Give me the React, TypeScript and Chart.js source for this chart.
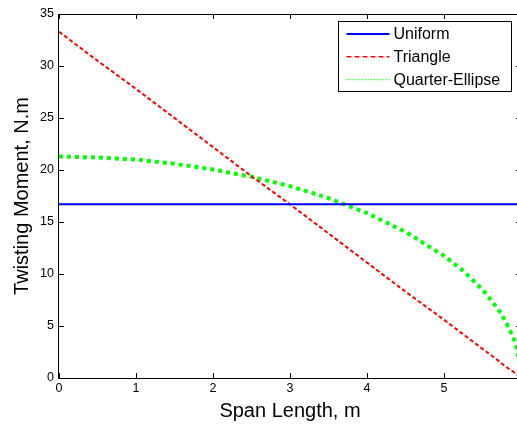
import React, { useEffect, useRef } from "react";
import { Chart, registerables } from "chart.js";

Chart.register(...registerables);

const spanX = [0, 0.5, 1, 1.5, 2, 2.5, 3, 3.5, 4, 4.5, 5, 5.25, 5.5, 5.7, 5.8, 5.9, 5.95, 6];
const uniformValues = [16.7, 16.7, 16.7, 16.7, 16.7, 16.7, 16.7, 16.7, 16.7, 16.7, 16.7, 16.7, 16.7, 16.7, 16.7, 16.7, 16.7, 16.7];
const triangleValues = [33.3, 30.5, 27.8, 25.0, 22.2, 19.4, 16.7, 13.9, 11.1, 8.3, 5.6, 4.2, 2.8, 1.7, 1.1, 0.6, 0.3, 0];
const ellipseValues = [21.3, 21.2, 21.0, 20.6, 20.05, 19.35, 18.45, 17.3, 15.85, 14.05, 11.75, 10.3, 8.5, 6.65, 5.45, 3.9, 2.75, 0];
const seriesNames = ["Uniform", "Triangle", "Quarter-Ellipse"];
const xTitle = "Span Length, m";
const yTitle = "Twisting Moment, N.m";

const FONT = "'Liberation Sans', Arial, sans-serif";

const boxPlugin = {
  id: "matlabBox",
  afterDraw(chart: any) {
    const { ctx, chartArea, scales } = chart;
    const { left, right, top, bottom } = chartArea;
    ctx.save();
    ctx.strokeStyle = "#000";
    ctx.lineWidth = 1;
    ctx.strokeRect(Math.round(left) - 0.5, Math.round(top) + 0.5, Math.round(right - left) + 1, Math.round(bottom - top));
    const tl = 5;
    ctx.beginPath();
    scales.y.ticks.forEach((t: any) => {
      const py = Math.round(scales.y.getPixelForValue(t.value)) + 0.5;
      ctx.moveTo(left, py);
      ctx.lineTo(left + tl, py);
      ctx.moveTo(right, py);
      ctx.lineTo(right - tl, py);
    });
    scales.x.ticks.forEach((t: any) => {
      const px = Math.round(scales.x.getPixelForValue(t.value)) + 0.5;
      ctx.moveTo(px, bottom);
      ctx.lineTo(px, bottom - tl);
      ctx.moveTo(px, top);
      ctx.lineTo(px, top + tl);
    });
    ctx.stroke();

    // legend
    const bx = Math.round(right) - 10 - 173 + 0.5;
    const by = Math.round(top) + 7 + 0.5;
    const bw = 173;
    const bh = 70;
    ctx.fillStyle = "#fff";
    ctx.fillRect(bx, by, bw, bh);
    ctx.strokeStyle = "#000";
    ctx.lineWidth = 1;
    ctx.strokeRect(bx, by, bw, bh);
    const legendStyles = [
      { dash: [], width: 2 },
      { dash: [5, 3], width: 1.5 },
      { dash: [1.2, 1.8], width: 1.2 },
    ];
    ctx.font = `16px ${FONT}`;
    ctx.textBaseline = "middle";
    ctx.textAlign = "left";
    chart.data.datasets.forEach((ds: any, i: number) => {
      const ry = by + 12.5 + i * 22.8;
      ctx.beginPath();
      ctx.setLineDash(legendStyles[i].dash);
      ctx.strokeStyle = ds.borderColor;
      ctx.lineWidth = legendStyles[i].width;
      ctx.moveTo(bx + 8, ry);
      ctx.lineTo(bx + 51, ry);
      ctx.stroke();
      ctx.setLineDash([]);
      ctx.fillStyle = "#000";
      ctx.fillText(ds.label, bx + 55, ry + 0.5);
    });
    ctx.restore();
  },
};

export default function App() {
  const ref = useRef<HTMLCanvasElement | null>(null);
  useEffect(() => {
    if (!ref.current) return;
    const mk = (vals: number[]) => spanX.map((x, i) => ({ x, y: vals[i] }));
    const chart = new Chart(ref.current, {
      type: "line",
      data: {
        datasets: [
          { label: seriesNames[0], data: mk(uniformValues), borderColor: "#0000ff", borderWidth: 2, pointRadius: 0, tension: 0 },
          { label: seriesNames[1], data: mk(triangleValues), borderColor: "#ff0000", borderWidth: 2, borderDash: [4, 2.5], pointRadius: 0, tension: 0 },
          { label: seriesNames[2], data: mk(ellipseValues), borderColor: "#00ff00", borderWidth: 4, borderDash: [4, 4], pointRadius: 0, tension: 0 },
        ],
      },
      options: {
        animation: false,
        responsive: false,
        devicePixelRatio: 1,
        layout: { padding: { top: 14, right: 19, left: 0, bottom: 0 } },
        plugins: { legend: { display: false }, tooltip: { enabled: false } },
        scales: {
          x: {
            type: "linear",
            min: 0,
            max: 6,
            grid: { display: false, drawTicks: false },
            border: { display: false },
            ticks: { stepSize: 1, color: "#000", padding: 3, font: { family: FONT, size: 12.5 } },
            title: { display: true, text: xTitle, color: "#000", font: { family: FONT, size: 20 }, padding: { top: 0, bottom: 2 } },
            afterFit: (s: any) => { s.height = 47; },
          },
          y: {
            type: "linear",
            min: 0,
            max: 35,
            grid: { display: false, drawTicks: false },
            border: { display: false },
            ticks: { stepSize: 5, color: "#000", padding: 5, font: { family: FONT, size: 12.5 } },
            title: { display: true, text: yTitle, color: "#000", font: { family: FONT, size: 20 }, padding: { top: 10.5, bottom: 0 } },
            afterFit: (s: any) => { s.width = 59; },
          },
        },
      },
      plugins: [boxPlugin],
    });
    return () => chart.destroy();
  }, []);
  return (
    <div style={{ position: "fixed", left: 0, top: 0, width: 517, height: 425, overflow: "hidden", background: "#fff" }}>
      <canvas ref={ref} width={540} height={425} style={{ display: "block", width: 540, height: 425 }} />
    </div>
  );
}
